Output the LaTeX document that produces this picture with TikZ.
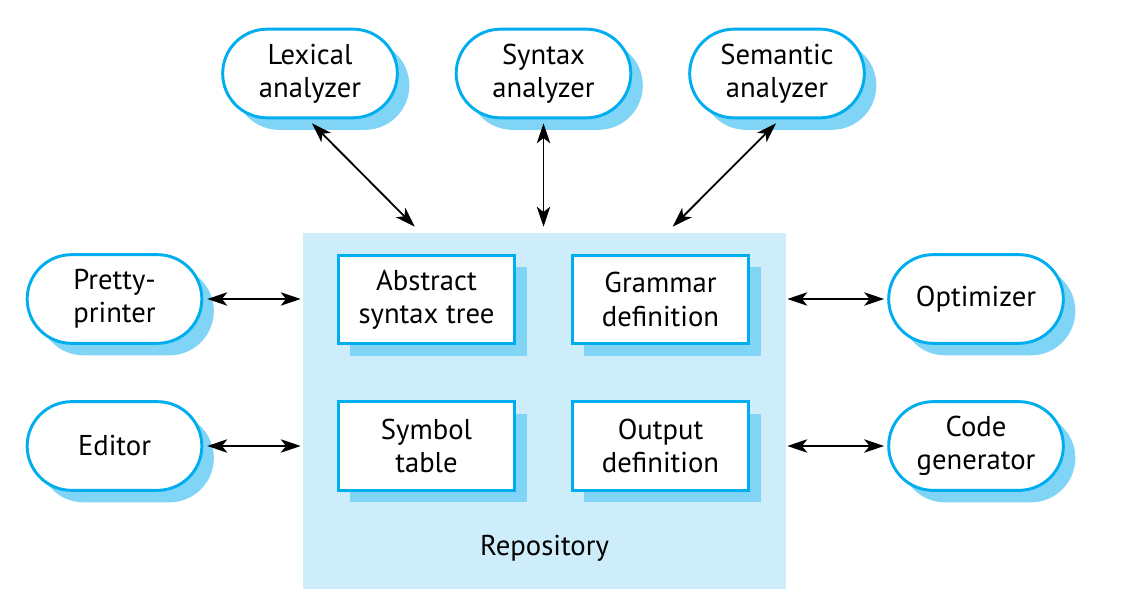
\documentclass[tikz,border=0pt]{standalone}
\usepackage{fontspec}
\setmainfont{PT Sans}
\usetikzlibrary{shapes.misc,shadows,arrows.meta,calc}
\definecolor{repofill}{HTML}{CCEDF9}
\definecolor{edgeblue}{HTML}{00AEEF}
\definecolor{shadowblue}{HTML}{80D4F6}
\tikzset{
  base/.style={draw=edgeblue, line width=2.2pt, fill=white, align=center,
    font=\fontsize{21.5}{25}\selectfont, inner sep=0pt,
    general shadow={shadow xshift=9pt, shadow yshift=-9pt, fill=shadowblue, draw=none}},
  tool/.style={base, rounded rectangle, minimum width=131pt, minimum height=66.5pt},
  part/.style={base, rectangle, minimum width=132.5pt, minimum height=66.5pt},
  arr/.style={{Stealth[length=15pt,width=10pt,inset=4pt]}-{Stealth[length=15pt,width=10pt,inset=4pt]}, line width=1.4pt, black}
}
\begin{document}
\begin{tikzpicture}[x=0.75pt,y=-0.75pt]
\useasboundingbox (0,0) rectangle (1134,605);
\node[fill=repofill, draw=none, minimum width=362.25pt, minimum height=267pt, inner sep=0pt] (repo) at (544.5,411) {};
\node[font=\fontsize{21.5}{25}\selectfont] (repolabel) at (544.5,548) {Repository};
\node[part] (ast) at (426.5,299.5) {Abstract\\syntax tree};
\node[part] (gram) at (660.5,299.5) {Grammar\\definition};
\node[part] (sym) at (426.5,446) {Symbol\\table};
\node[part] (out) at (660.5,446) {Output\\definition};
\node[tool] (lex) at (310,73.5) {Lexical\\analyzer};
\node[tool] (syn) at (543.5,73.5) {Syntax\\analyzer};
\node[tool] (sem) at (777,73.5) {Semantic\\analyzer};
\node[tool] (pp) at (114.5,299) {Pretty-\\printer};
\node[tool] (ed) at (114.5,446) {Editor};
\node[tool] (opt) at (976,299) {Optimizer};
\node[tool] (cg) at (976,446) {Code\\generator};
\draw[arr] ($(lex.south)+(2,4)$) -- ($(repo.north west)+(112,-6)$);
\draw[arr] ($(syn.south)+(0,4)$) -- ($(repo.north)+(-1,-6)$);
\draw[arr] ($(sem.south)+(-1,4)$) -- ($(repo.north west)+(370,-6)$);
\draw[arr] ($(pp.east)+(4,0)$) -- ($(repo.west |- pp)+(-2,0)$);
\draw[arr] ($(ed.east)+(4,0)$) -- ($(repo.west |- ed)+(-2,0)$);
\draw[arr] ($(repo.east |- opt)+(1,0)$) -- ($(opt.west)+(-3,0)$);
\draw[arr] ($(repo.east |- cg)+(1,0)$) -- ($(cg.west)+(-3,0)$);
\end{tikzpicture}
\end{document}
